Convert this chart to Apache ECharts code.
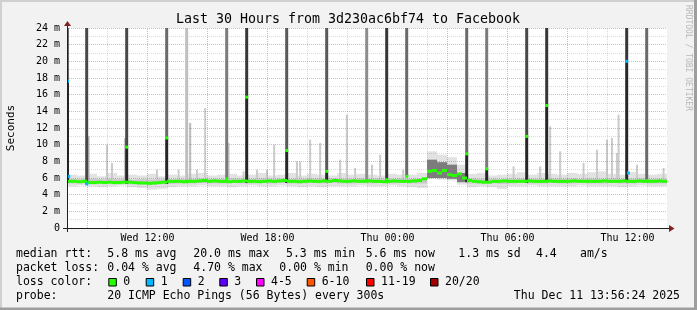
<!DOCTYPE html>
<html><head><meta charset="utf-8">
<script src="https://cdn.jsdelivr.net/npm/echarts@6/dist/echarts.min.js"></script>
<style>html,body{margin:0;padding:0;background:#f2f2f2}#c{width:697px;height:310px}</style>
</head><body><div id="c"></div>
<script>
// ---------------- DATA (time = hours since Wed 00:00) ----------------
const T0 = 7.975, T1 = 37.975;               // last 30 hours, ending Thu 13:56
const tickHours  = [12, 18, 24, 30, 36];
const tickLabels = ['Wed 12:00', 'Wed 18:00', 'Thu 00:00', 'Thu 06:00', 'Thu 12:00'];
const minorHours = [8,10,11,13,14,16,17,19,20,22,23,25,26,28,29,31,32,34,35,37];
const majorHours = [9,12,15,18,21,24,27,30,33,36];
const minorMs = [1,3,5,7,9,11,13,15,17,19,21,23];
const majorMs = [2,4,6,8,10,12,14,16,18,20,22,24];

// median rtt (ms), one value per 15 minutes from T0
const medianRtt = [
  5.6,5.6,5.55,5.6,5.45,5.45,5.5,5.45,5.5,5.45,
  5.45,5.5,5.5,5.45,5.4,5.4,5.35,5.4,5.45,5.5,
  5.6,5.6,5.6,5.55,5.6,5.6,5.65,5.7,5.6,5.65,
  5.6,5.6,5.55,5.6,5.6,5.65,5.6,5.6,5.55,5.6,
  5.65,5.6,5.65,5.7,5.6,5.6,5.55,5.6,5.65,5.6,
  5.6,5.65,5.6,5.7,5.65,5.6,5.6,5.65,5.6,5.6,
  5.65,5.6,5.6,5.55,5.6,5.65,5.6,5.6,5.6,5.65,
  5.7,5.9,6.8,6.9,6.6,6.9,6.4,6.3,6.5,6.0,
  5.7,5.6,5.55,5.5,5.5,5.6,5.6,5.65,5.6,5.6,
  5.6,5.6,5.65,5.6,5.6,5.6,5.65,5.6,5.6,5.6,
  5.6,5.65,5.6,5.6,5.6,5.6,5.6,5.65,5.6,5.6,
  5.6,5.65,5.6,5.6,5.65,5.6,5.6,5.6,5.65,5.6
];
// smoke (ping spread), one value per 30 minutes from T0
const smokeMin = [
  5.0,5.1,5.0,4.9,5.0,5.1,4.9,4.8,4.6,4.7,
  4.9,5.0,5.0,5.1,5.0,5.0,4.9,5.0,5.1,5.0,
  5.0,5.1,5.0,4.9,5.0,4.9,5.0,5.0,5.0,5.1,
  5.0,5.0,5.1,5.0,4.9,4.8,5.9,5.8,5.7,5.2,
  4.9,5.0,4.9,4.7,5.0,5.0,5.1,5.0,5.0,5.0,
  5.0,5.1,5.0,5.0,5.0,4.9,5.0,5.1,5.0,5.0
];
const smokeMax = [
  6.4,6.3,6.5,6.2,6.6,6.3,6.4,6.3,6.5,6.2,
  6.4,6.3,6.5,6.6,6.3,6.4,6.5,6.3,6.4,6.6,
  6.3,6.4,6.6,6.3,6.5,6.4,6.3,6.6,6.4,6.5,
  6.4,6.3,6.5,6.4,6.4,6.6,9.2,8.8,8.5,7.6,
  6.5,6.6,6.3,6.4,6.5,6.7,6.4,6.6,6.5,6.4,
  6.6,6.5,6.7,6.8,6.5,6.4,6.7,6.5,6.4,6.5
];
const smokeQ1 = [
  5.35,5.35,5.35,5.3,5.3,5.3,5.25,5.25,5.2,5.25,
  5.3,5.35,5.35,5.4,5.35,5.35,5.4,5.35,5.35,5.4,
  5.35,5.4,5.35,5.35,5.4,5.35,5.4,5.35,5.35,5.4,
  5.35,5.4,5.35,5.4,5.35,5.35,6.0,6.0,5.9,5.5,
  5.35,5.3,5.35,5.3,5.35,5.4,5.35,5.35,5.4,5.35,
  5.35,5.4,5.35,5.35,5.4,5.35,5.35,5.4,5.35,5.35
];
const smokeQ3 = [
  5.9,5.85,5.9,5.85,5.9,5.85,5.8,5.85,5.8,5.85,
  5.85,5.9,5.9,5.95,5.9,5.9,5.95,5.9,5.9,5.95,
  5.9,5.95,5.9,5.9,5.95,5.9,5.95,5.9,5.9,5.95,
  5.9,5.95,5.9,5.95,5.9,5.95,8.2,7.9,7.6,6.6,
  5.95,5.9,5.9,5.85,5.9,5.95,5.9,5.9,5.95,5.9,
  5.95,5.9,5.95,5.9,5.95,5.9,5.9,5.95,5.9,5.9
];
// big spikes: time, lowest ping, median, loss, pings above the scale
const spikeTime   = [8.0,8.96,10.96,12.96,13.96,15.96,16.96,18.96,20.96,22.96,23.96,24.96,27.96,28.96,30.96,31.96,35.96,36.96];
const spikeMin    = [5.4,5.2,5.3,5.3,5.4,5.4,5.4,5.4,5.5,5.5,5.4,5.5,5.5,5.4,5.4,5.5,5.5,5.4];
const spikeMedian = [17.6,5.3,9.7,10.8,5.6,5.9,15.7,9.3,6.8,5.7,5.8,6.2,8.9,7.1,11.0,14.7,20.0,5.7];
const spikeLoss   = [1,1,0,0,0,0,0,0,0,0,0,0,0,0,0,0,1,0];
const spikeHigh   = [7,9,9,7,2,6,10,8,8,5,10,7,7,6,9,10,10,7];
// extra median samples (after spikes)
const extraTime = [8.065, 36.045];
const extraMedian = [6.2, 6.6];
const extraLoss = [1, 1];
// occasional slow pings: time, max ping, count
const blipTime = [9.045,9.965,10.215,10.875,12.465,13.545,14.125,14.465,14.875,16.045,16.795,17.465,17.965,18.325,19.465,19.625,20.125,20.625,21.625,21.96,22.375,23.215,23.625,24.775,30.295,31.625,32.125,32.625,33.795,34.465,34.965,35.215,35.465,35.545,36.465,37.795];
const blipMax  = [11.0,10.0,7.8,10.8,7.0,7.0,12.6,7.0,14.4,10.2,6.8,7.0,7.0,10.0,8.0,8.0,10.6,10.2,8.2,13.6,7.2,7.6,8.8,7.0,7.4,7.4,12.2,9.2,7.8,9.4,10.6,10.8,9.0,13.6,7.6,7.2];
const blipCount= [2,1,1,2,1,1,2,1,1,1,1,1,1,1,1,1,1,1,1,1,1,1,1,1,1,1,1,1,1,1,1,1,1,1,1,1];

const lossColors = ['#26ff00','#00b8ff','#0059ff','#5e00ff','#ff00ff','#ff5500','#ff0000','#a10000'];
const lossLabels = ['0','1','2','3','4-5','6-10','11-19','20/20'];
const statRow1 = ['median rtt:','5.8 ms avg','20.0 ms max','5.3 ms min','5.6 ms now','1.3 ms sd','4.4','am/s'];
const statRow2 = ['packet loss:','0.04 % avg','4.70 % max','0.00 % min','0.00 % now'];
const probeRow = ['probe:','20 ICMP Echo Pings (56 Bytes) every 300s','Thu Dec 11 13:56:24 2025'];
const titleText = 'Last 30 Hours from 3d230ac6bf74 to Facebook';

// ---------------- CHART ----------------
const FONT = '"DejaVu Sans Mono", monospace';
const chart = echarts.init(document.getElementById('c'), null, {renderer: 'canvas', width: 697, height: 310});
const STEP = 1 / 12; // 5 minutes

function grey(n) { const v = Math.max(40, Math.round(225 - 17 * n)); return 'rgb(' + v + ',' + v + ',' + v + ')'; }
function clip(x, y, w, h, cs) {
  return echarts.graphic.clipRectByRect({x: x, y: y, width: w, height: h}, {x: cs.x, y: cs.y, width: cs.width, height: cs.height});
}
function bandItem(fillFn) {
  return function (params, api) {
    const a = api.coord([api.value(0), api.value(3)]);
    const b = api.coord([api.value(1), api.value(2)]);
    const s = clip(a[0], a[1], b[0] - a[0], b[1] - a[1], params.coordSys);
    return s ? {type: 'rect', shape: s, style: {fill: fillFn(api.value(3) - api.value(2))}} : null;
  };
}

const smokeOuter = smokeMin.map((v, j) => [T0 + j * 0.5, T0 + (j + 1) * 0.5, v, smokeMax[j]]);
const smokeInner = smokeQ1.map((v, j) => [T0 + j * 0.5, T0 + (j + 1) * 0.5, v, smokeQ3[j]]);
const blips = blipTime.map((t, k) => {
  const i = Math.min(medianRtt.length - 1, Math.floor((t - T0) / 0.25));
  return [t - STEP / 2, t + STEP / 2, medianRtt[i], blipMax[k], blipCount[k]];
});
const spikes = spikeTime.map((t, k) => [t, t, spikeMin[k], 30, spikeMedian[k], spikeHigh[k]]);
const medians = medianRtt.map((v, i) => [T0 + i * 0.25, T0 + (i + 1) * 0.25, v, v, 0])
  .concat(spikeTime.map((t, k) => [t - STEP / 2, t + STEP / 2, spikeMedian[k], spikeMedian[k], spikeLoss[k]]))
  .concat(extraTime.map((t, k) => [t - STEP / 2, t + STEP / 2, extraMedian[k], extraMedian[k], extraLoss[k]]));

const GRID_MINOR = 'rgba(143,143,143,0.32)', GRID_MAJOR = 'rgba(222,79,79,0.45)';
const gridLines = []
  .concat(minorHours.map(h => ({xAxis: h, lineStyle: {color: GRID_MINOR}})))
  .concat(majorHours.map(h => ({xAxis: h, lineStyle: {color: GRID_MAJOR}})))
  .concat(minorMs.map(v => ({yAxis: v, lineStyle: {color: GRID_MINOR}})))
  .concat(majorMs.map(v => ({yAxis: v, lineStyle: {color: GRID_MAJOR}})));

chart.setOption({
  backgroundColor: '#f2f2f2',
  animation: false,
  grid: {left: 67, top: 28, width: 600, height: 200, show: true, backgroundColor: '#ffffff', borderWidth: 0,
    containLabel: false, outerBoundsMode: 'none'},
  xAxis: {
    type: 'value', min: T0, max: T1,
    axisLine: {show: false}, axisTick: {show: false}, splitLine: {show: false},
    axisLabel: {
      customValues: tickHours, margin: 5, color: '#000', fontFamily: FONT, fontSize: 10,
      formatter: v => tickLabels[tickHours.indexOf(Math.round(v))] || ''
    }
  },
  yAxis: {
    type: 'value', min: 0, max: 24, interval: 2,
    name: 'Seconds', nameLocation: 'middle', nameGap: 50, nameRotate: 90,
    nameTextStyle: {fontFamily: FONT, fontSize: 11, color: '#000'},
    axisLine: {show: false}, axisTick: {show: false}, splitLine: {show: false},
    axisLabel: {margin: 7, color: '#000', fontFamily: FONT, fontSize: 10,
      formatter: v => v === 0 ? '0' : v + ' m'}
  },
  series: [
    {type: 'custom', z: 2, silent: true, renderItem: bandItem(() => '#e2e2e2'), encode: {x: [0, 1], y: [2, 3]}, data: smokeOuter},
    {type: 'custom', z: 3, silent: true, renderItem: bandItem(d => d > 1 ? '#7c7c7c' : '#c8c8c8'), encode: {x: [0, 1], y: [2, 3]}, data: smokeInner},
    {type: 'custom', z: 4, silent: true, encode: {x: [0, 1], y: [2, 3]}, data: blips,
      renderItem: function (params, api) {
        const a = api.coord([api.value(0), api.value(3)]);
        const b = api.coord([api.value(1), api.value(2)]);
        const w = Math.max(2, b[0] - a[0]);
        const s = clip(a[0], a[1], w, b[1] - a[1], params.coordSys);
        return s ? {type: 'rect', shape: s, style: {fill: grey(api.value(4) + 0.3)}} : null;
      }},
    {type: 'custom', z: 5, silent: true, encode: {x: [0, 1], y: [2, 3]}, data: spikes,
      renderItem: function (params, api) {
        const t = api.value(0);
        const lo = api.coord([t, api.value(2)]);
        const md = api.coord([t, api.value(4)]);
        const hi = api.coord([t, api.value(3)]);
        const cs = params.coordSys;
        const x = lo[0] - 1.5, w = 3;
        const up = clip(x, hi[1], w, md[1] - hi[1], cs);
        const dn = clip(x, md[1], w, lo[1] - md[1], cs);
        const ch = [];
        if (up) ch.push({type: 'rect', shape: up, style: {fill: grey(api.value(5))}});
        if (dn && api.value(4) > 6.5) ch.push({type: 'rect', shape: dn, style: {fill: '#262626'}});
        return {type: 'group', children: ch};
      }},
    {type: 'custom', z: 6, silent: true, encode: {x: [0, 1], y: [2, 3]}, data: medians,
      renderItem: function (params, api) {
        const a = api.coord([api.value(0), api.value(2)]);
        const b = api.coord([api.value(1), api.value(2)]);
        let w = b[0] - a[0], x = a[0];
        if (w < 3) { x = (a[0] + b[0]) / 2 - 1.5; w = 3; }
        const s = clip(x, a[1] - 1.5, w, 3, params.coordSys);
        return s ? {type: 'rect', shape: s, style: {fill: lossColors[api.value(4)]}} : null;
      }},
    {type: 'line', z: 8, silent: true, data: [],
      markLine: {silent: true, symbol: ['none', 'none'], label: {show: false}, animation: false,
        lineStyle: {width: 1, type: [1, 1]}, emphasis: {disabled: true}, data: gridLines}}
  ]
});

// ---------- axes, arrows and legend text ----------
const p0 = chart.convertToPixel({gridIndex: 0}, [T0, 0]);
const p1 = chart.convertToPixel({gridIndex: 0}, [T1, 24]);
const X0 = p0[0], Y0 = p0[1], X1 = p1[0], Y1 = p1[1];
const g = [];
g.push({type: 'rect', silent: true, shape: {x: 0, y: 0, width: 697, height: 2}, style: {fill: '#d0d0d0'}});
g.push({type: 'rect', silent: true, shape: {x: 0, y: 0, width: 2, height: 310}, style: {fill: '#d0d0d0'}});
g.push({type: 'rect', silent: true, shape: {x: 694, y: 0, width: 3, height: 310}, style: {fill: '#9e9e9e'}});
g.push({type: 'rect', silent: true, shape: {x: 0, y: 307.5, width: 697, height: 3}, style: {fill: '#9e9e9e'}});
g.push({type: 'line', silent: true, z: 20, shape: {x1: X0 - 4, y1: Y0 + 0.5, x2: X1 + 2, y2: Y0 + 0.5}, style: {stroke: '#1f1f1f', lineWidth: 1}});
g.push({type: 'line', silent: true, z: 20, shape: {x1: X0 + 0.5, y1: Y0 + 4, x2: X0 + 0.5, y2: Y1 - 2}, style: {stroke: '#1f1f1f', lineWidth: 1}});
g.push({type: 'polygon', silent: true, z: 21, shape: {points: [[X1 + 2, Y0 - 3], [X1 + 7.5, Y0 + 0.5], [X1 + 2, Y0 + 4]]}, style: {fill: '#801f1f'}});
g.push({type: 'polygon', silent: true, z: 21, shape: {points: [[X0 - 3, Y1 - 2], [X0 + 0.5, Y1 - 7], [X0 + 4, Y1 - 2]]}, style: {fill: '#801f1f'}});

function txt(s, x, y, size, align) {
  return {type: 'text', silent: true, z: 20, x: x, y: y,
    style: {text: s, font: size + 'px ' + FONT, fill: '#000', textVerticalAlign: 'middle', textAlign: align || 'left'}};
}
g.push(txt(titleText, 348, 19.5, 13.3, 'center'));
g.push({type: 'text', silent: true, z: 20, x: 688, y: 5, rotation: -Math.PI / 2,
  style: {text: 'RRDTOOL / TOBI OETIKER', font: '8px ' + FONT, fill: '#b8b8b8', textVerticalAlign: 'middle', textAlign: 'left'}});

const row1X = [16, 107.3, 193.3, 286, 365.7, 458.3, 536, 580];
const row2X = [16, 107.3, 193.3, 279.3, 365.7];
statRow1.forEach((s, i) => g.push(txt(s, row1X[i], 254.3, 11.5)));
statRow2.forEach((s, i) => g.push(txt(s, row2X[i], 268.3, 11.5)));
g.push(txt('loss color:', 16, 282.3, 11.5));
const boxX = [108.3, 145.7, 182.7, 219.3, 256, 306.7, 366, 430];
lossLabels.forEach((s, i) => {
  g.push({type: 'rect', silent: true, z: 20, shape: {x: boxX[i] + 0.5, y: 278.5, width: 7.5, height: 7.5}, style: {fill: lossColors[i], stroke: '#000', lineWidth: 1}});
  g.push(txt(s, boxX[i] + 15, 282.3, 11.5));
});
g.push(txt(probeRow[0], 16, 296, 11.5));
g.push(txt(probeRow[1], 107.3, 296, 11.5));
g.push(txt(probeRow[2], 680, 296, 11.5, 'right'));
chart.setOption({graphic: g});
</script>
</body></html>
